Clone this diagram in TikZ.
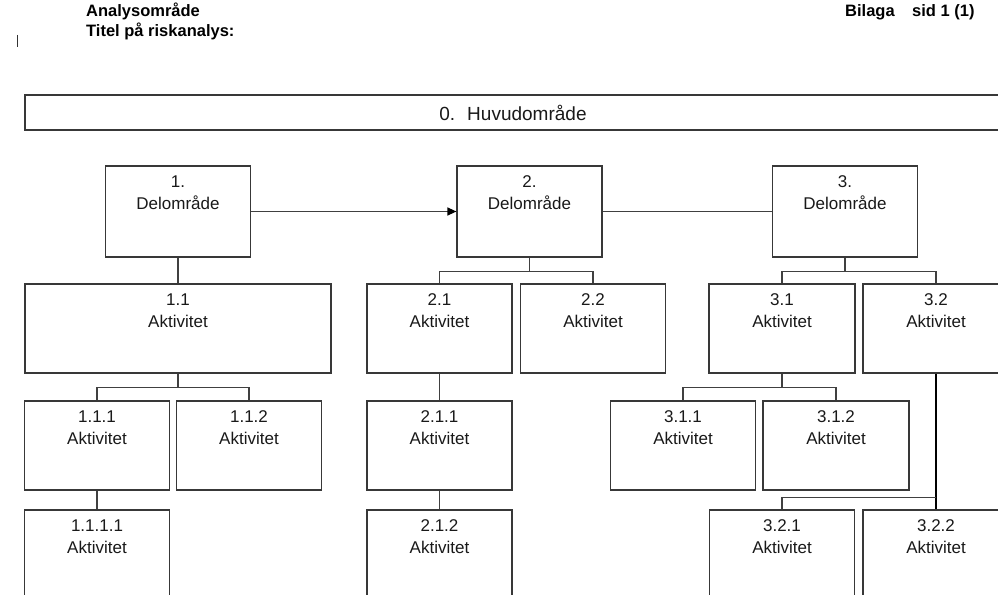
\documentclass[tikz,border=0pt]{standalone}
\usepackage{fontspec}
\setmainfont{Liberation Sans}
\usetikzlibrary{arrows.meta}
\newcommand{\bxfont}{\fontsize{17}{22}\selectfont}
\newcommand{\hdfont}{\fontsize{16.5}{19}\selectfont\bfseries}
\newcommand{\mnfont}{\fontsize{19}{22}\selectfont}
\begin{document}
\begin{tikzpicture}[x=1pt,y=-1pt,
  bx/.style={draw=black!78,line width=1.2pt,inner sep=0pt,minimum width=145pt,minimum height=90pt},
  bw/.style={minimum width=#1},
  bh/.style={minimum height=#1},
  lab/.style={label={[anchor=north,align=center,inner sep=0pt,yshift=-10pt,font=\bxfont,text=black!90]north:#1}},
  ln/.style={draw=black!75,line width=1.2pt},
  thk/.style={draw=black,line width=2.2pt},
  hd/.style={anchor=base west,inner sep=0pt,font=\hdfont,text=black}]
\useasboundingbox (0,0) rectangle (998,594);
\clip (0,0) rectangle (998,594);
\fill[white] (0,0) rectangle (998,594);
% header
\node[hd] (h1) at (86,17) {Analysområde};
\node[hd] (h2) at (86,37) {Titel på riskanalys:};
\node[hd] (h3) at (845,17) {Bilaga};
\node[hd] (h4) at (912,17) {sid 1 (1)};
\coordinate (c1) at (17,35);
\coordinate (c2) at (17,47);
\draw[black!80,line width=1pt] (c1) -- (c2);
% main box
\node[bx,bw=976pt,bh=35pt,font=\mnfont,text=black!90] (b0) at (513,112.5) {0.\hspace{12pt}Huvudområde};
% level 1
\node[bx,bh=91pt,lab={1.\\Delområde}] (b1) at (178,211.5) {};
\node[bx,bh=91pt,lab={2.\\Delområde}] (b2) at (529.5,211.5) {};
\node[bx,bh=91pt,lab={3.\\Delområde}] (b3) at (845,211.5) {};
% level 2
\node[bx,bw=306pt,bh=89pt,lab={1.1\\Aktivitet}] (a11) at (178,328.5) {};
\node[bx,bh=89pt,lab={2.1\\Aktivitet}] (a21) at (439.5,328.5) {};
\node[bx,bh=89pt,lab={2.2\\Aktivitet}] (a22) at (593,328.5) {};
\node[bx,bw=146pt,bh=89pt,lab={3.1\\Aktivitet}] (a31) at (782,328.5) {};
\node[bx,bw=146pt,bh=89pt,lab={3.2\\Aktivitet}] (a32) at (936,328.5) {};
% level 3
\node[bx,bh=89pt,lab={1.1.1\\Aktivitet}] (a111) at (97,445.5) {};
\node[bx,bh=89pt,lab={1.1.2\\Aktivitet}] (a112) at (249,445.5) {};
\node[bx,bh=89pt,lab={2.1.1\\Aktivitet}] (a211) at (439.5,445.5) {};
\node[bx,bh=89pt,lab={3.1.1\\Aktivitet}] (a311) at (683,445.5) {};
\node[bx,bw=146pt,bh=89pt,lab={3.1.2\\Aktivitet}] (a312) at (836,445.5) {};
% level 4
\node[bx,lab={1.1.1.1\\Aktivitet}] (a1111) at (97,555) {};
\node[bx,lab={2.1.2\\Aktivitet}] (a212) at (439.5,555) {};
\node[bx,lab={3.2.1\\Aktivitet}] (a321) at (782,555) {};
\node[bx,bw=146pt,lab={3.2.2\\Aktivitet}] (a322) at (936,555) {};
% connectors
\draw[ln,-{Triangle[length=9pt,width=8pt,color=black]}] (b1.east) -- (b2.west);
\draw[ln] (b2.east) -- (b3.west);
\draw[ln] (b1.south) -- (a11.north);
\draw[ln] (b2.south) -- ([yshift=-14pt]b2.south);
\draw[ln] (a21.north) |- ([yshift=-14pt]b2.south) -| (a22.north);
\draw[ln] (b3.south) -- ([yshift=-14pt]b3.south);
\draw[ln] (a31.north) |- ([yshift=-14pt]b3.south) -| (a32.north);
\draw[ln] (a11.south) -- ([yshift=-14pt]a11.south);
\draw[ln] (a111.north) |- ([yshift=-14pt]a11.south) -| (a112.north);
\draw[ln] (a21.south) -- (a211.north);
\draw[ln] (a31.south) -- ([yshift=-14pt]a31.south);
\draw[ln] (a311.north) |- ([yshift=-14pt]a31.south) -| (a312.north);
\draw[ln] (a111.south) -- (a1111.north);
\draw[ln] (a211.south) -- (a212.north);
\draw[thk] (a32.south) -- (a322.north);
\draw[ln] (a321.north) |- ([yshift=12pt]a322.north);
\end{tikzpicture}
\end{document}
